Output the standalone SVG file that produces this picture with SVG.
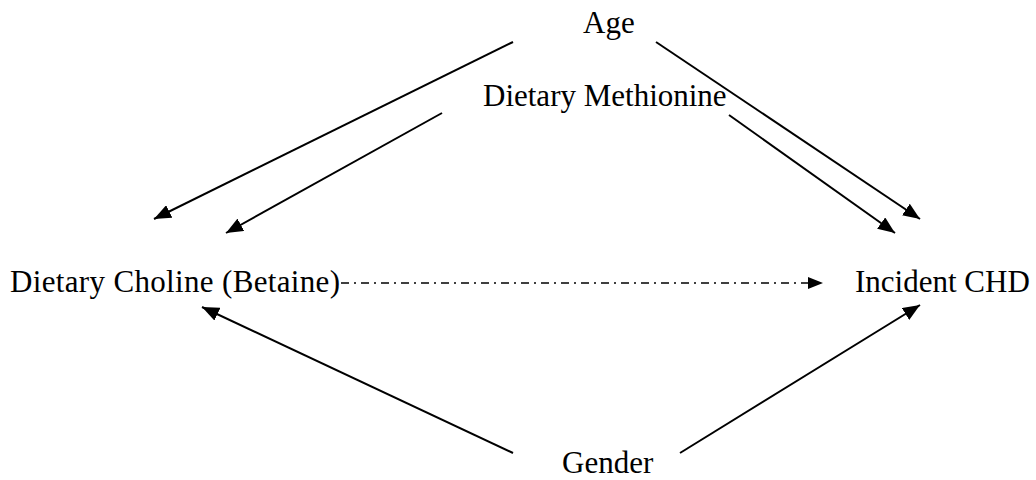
<svg xmlns="http://www.w3.org/2000/svg" width="1036" height="480" viewBox="0 0 1036 480">
<style>
.lbl{font-family:"Liberation Serif","Times New Roman",serif;font-size:31px;fill:#000}
.edge{stroke:#000;stroke-width:2;fill:none}
.dash{stroke:#000;stroke-width:1.5;fill:none;stroke-dasharray:8 5 2 5}
</style>
<defs>
<marker id="ah" markerUnits="userSpaceOnUse" markerWidth="18" markerHeight="14" refX="17" refY="7" orient="auto">
<path d="M0,0 L17,7 L0,14 z" fill="#000"/>
</marker>
</defs>
<rect width="1036" height="480" fill="#fff"/>
<g id="connectors">
<line class="edge" x1="513" y1="42" x2="154" y2="219" marker-end="url(#ah)"/>
<line class="edge" x1="442" y1="113" x2="226" y2="233" marker-end="url(#ah)"/>
<line class="edge" x1="656" y1="42" x2="920" y2="219" marker-end="url(#ah)"/>
<line class="edge" x1="729" y1="115" x2="895" y2="233" marker-end="url(#ah)"/>
<line class="edge" x1="513" y1="453" x2="202" y2="307" marker-end="url(#ah)"/>
<line class="edge" x1="680" y1="453" x2="920" y2="305" marker-end="url(#ah)"/>
<line class="dash" x1="341" y1="283" x2="808" y2="283"/>
<path d="M808,277 L823,283 L808,289 z" fill="#000"/>
</g>
<g id="age"><text class="lbl" x="583" y="33">Age</text></g>
<g id="methionine"><text class="lbl" x="483" y="106">Dietary Methionine</text></g>
<g id="choline"><text class="lbl" x="10" y="292" textLength="330" lengthAdjust="spacing">Dietary Choline (Betaine)</text></g>
<g id="chd"><text class="lbl" x="855" y="292">Incident CHD</text></g>
<g id="gender"><text class="lbl" x="562" y="473">Gender</text></g>
</svg>
